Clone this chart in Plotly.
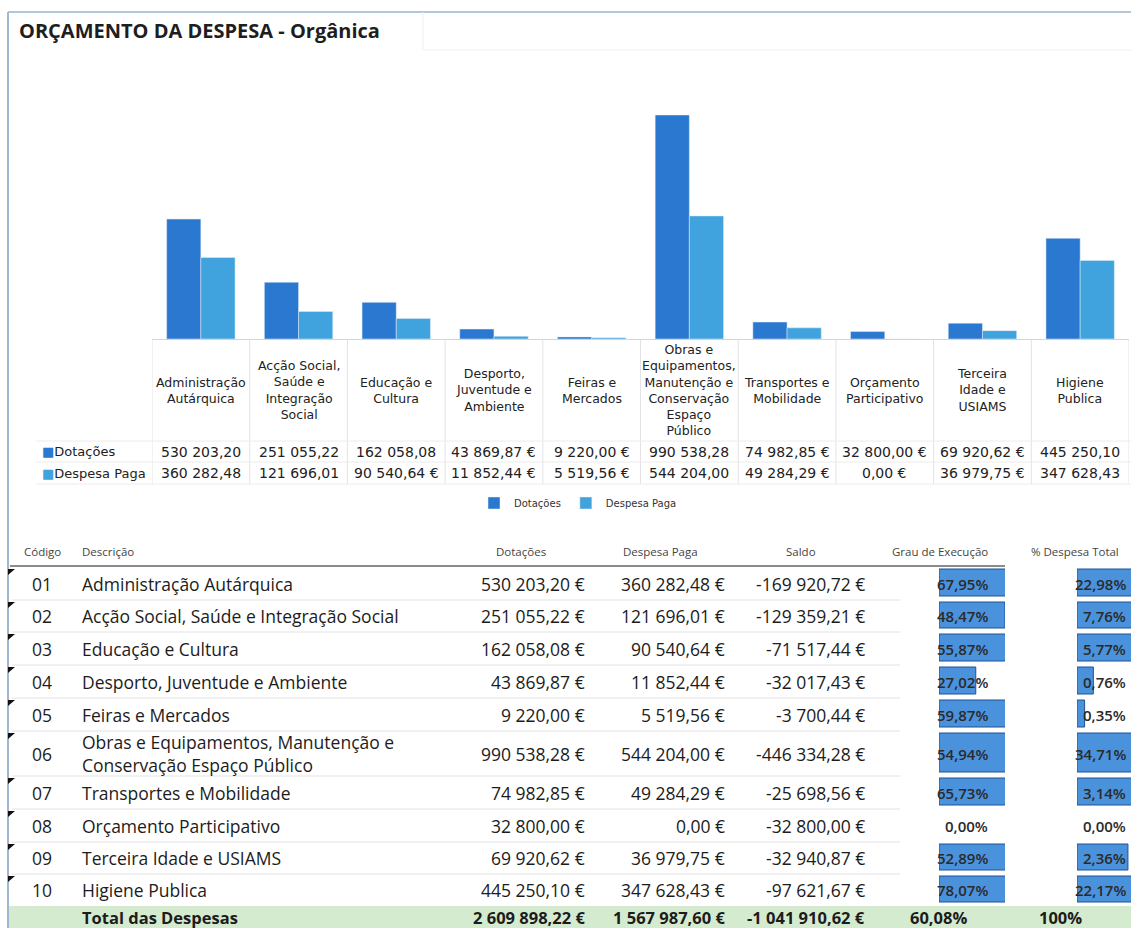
import plotly.graph_objects as go

# ---------------- data ----------------
codes = ["01", "02", "03", "04", "05", "06", "07", "08", "09", "10"]
descricao = [
    "Administração Autárquica",
    "Acção Social, Saúde e Integração Social",
    "Educação e Cultura",
    "Desporto, Juventude e Ambiente",
    "Feiras e Mercados",
    "Obras e Equipamentos, Manutenção e<br>Conservação Espaço Público",
    "Transportes e Mobilidade",
    "Orçamento Participativo",
    "Terceira Idade e USIAMS",
    "Higiene Publica",
]
chart_labels = [
    "Administração<br>Autárquica",
    "Acção Social,<br>Saúde e<br>Integração<br>Social",
    "Educação e<br>Cultura",
    "Desporto,<br>Juventude e<br>Ambiente",
    "Feiras e<br>Mercados",
    "Obras e<br>Equipamentos,<br>Manutenção e<br>Conservação<br>Espaço<br>Público",
    "Transportes e<br>Mobilidade",
    "Orçamento<br>Participativo",
    "Terceira<br>Idade e<br>USIAMS",
    "Higiene<br>Publica",
]
dotacoes = [530203.20, 251055.22, 162058.08, 43869.87, 9220.00,
            990538.28, 74982.85, 32800.00, 69920.62, 445250.10]
despesa_paga = [360282.48, 121696.01, 90540.64, 11852.44, 5519.56,
                544204.00, 49284.29, 0.00, 36979.75, 347628.43]
series_names = ["Dotações", "Despesa Paga"]
headers = ["Código", "Descrição", "Dotações", "Despesa Paga", "Saldo",
           "Grau de Execução", "% Despesa Total"]
title_text = "ORÇAMENTO DA DESPESA - Orgânica"
total_label = "Total das Despesas"

# derived values
saldo = [p - d for d, p in zip(dotacoes, despesa_paga)]
grau = [p / d for d, p in zip(dotacoes, despesa_paga)]
tot_dot = sum(dotacoes)
tot_desp = sum(despesa_paga)
tot_saldo = tot_desp - tot_dot
pct_total = [p / tot_desp for p in despesa_paga]


def num(v):
    s = f"{abs(v):,.2f}".replace(",", " ").replace(".", ",")
    return ("-" if v < 0 else "") + s


def eur(v):
    return num(v) + " €"


def pct(v):
    return f"{v * 100:.2f}".replace(".", ",") + "%"


def cell(v):  # Excel-style truncated display in the chart data table
    return num(v) if v >= 100000 else eur(v)


# ---------------- layout helpers ----------------
W, H = 1131, 928
C_DOT = "#2a78d0"
C_DESP = "#41a3dd"
CHART_FONT = "DejaVu Sans"
TAB_FONT = "Open Sans"


def fx(x):
    return x / W


def fy(y):
    return 1 - y / H


fig = go.Figure()

# main clustered bars
fig.add_trace(go.Bar(x=list(range(len(codes))), y=dotacoes, name=series_names[0],
                     marker_color=C_DOT, hoverinfo="skip"))
fig.add_trace(go.Bar(x=list(range(len(codes))), y=despesa_paga, name=series_names[1],
                     marker_color=C_DESP, hoverinfo="skip"))

# table geometry
row_heights = [33, 32, 33, 33, 33, 45, 33, 33, 32, 32]
table_top = 567
row_tops = []
yy = table_top
for h in row_heights:
    row_tops.append(yy)
    yy += h
row_centers = [t + h / 2 for t, h in zip(row_tops, row_heights)]
total_top = yy
total_center = total_top + 11.5

# data bars (Excel conditional-format style)
bar_w = [h - 6 for h in row_heights]
bar_y = [c - 1 for c in row_centers]
DB_FILL = "#4b92dc"
DB_LINE = "#1d5296"
for vals, xa, ya in ((grau, "x2", "y2"), (pct_total, "x3", "y3")):
    fig.add_trace(go.Bar(x=vals, y=bar_y, width=bar_w, orientation="h",
                         xaxis=xa, yaxis=ya, showlegend=False, hoverinfo="skip",
                         marker=dict(color=DB_FILL,
                                     line=dict(color=DB_LINE,
                                               width=[1 if v > 0 else 0 for v in vals]))))

ann = []
shapes = []

# title
ann.append(dict(x=fx(17), y=fy(30), xref="paper", yref="paper", xanchor="left",
                yanchor="middle", showarrow=False, text=f"<b>{title_text}</b>",
                font=dict(family=TAB_FONT, size=20, color="#1e1e1e")))

# chart frame
shapes.append(dict(type="line", xref="paper", yref="paper", x0=fx(8), x1=1,
                   y0=fy(12), y1=fy(12), line=dict(color="#b3c7da", width=2)))
shapes.append(dict(type="line", xref="paper", yref="paper", x0=fx(8), x1=fx(8),
                   y0=fy(12), y1=0, line=dict(color="#9fb9d2", width=2)))
# faint text-box outline at top right
shapes.append(dict(type="path", xref="paper", yref="paper",
                   path=f"M {fx(423)} {fy(12)} L {fx(423)} {fy(50)} L 1 {fy(50)}",
                   line=dict(color="#eef1f4", width=1)))

# chart data table grid
grid_c = "#e3e3e3"
for i in range(len(codes) + 1):
    shapes.append(dict(type="line", xref="x", yref="paper", x0=i - 0.5, x1=i - 0.5,
                       y0=fy(340), y1=fy(484), line=dict(color=grid_c, width=1)))
for yl in (441, 462, 484):
    shapes.append(dict(type="line", xref="paper", yref="paper", x0=fx(36), x1=1,
                       y0=fy(yl), y1=fy(yl), line=dict(color="#ececec", width=1)))

for i, lab in enumerate(chart_labels):
    ann.append(dict(x=i, y=fy(390), xref="x", yref="paper", showarrow=False,
                    xanchor="center", yanchor="middle", text=lab,
                    font=dict(family=CHART_FONT, size=12.5, color="#222")))
    ann.append(dict(x=i, y=fy(452), xref="x", yref="paper", showarrow=False,
                    xanchor="center", yanchor="middle", text=cell(dotacoes[i]),
                    font=dict(family=CHART_FONT, size=14, color="#222")))
    ann.append(dict(x=i, y=fy(473), xref="x", yref="paper", showarrow=False,
                    xanchor="center", yanchor="middle", text=cell(despesa_paga[i]),
                    font=dict(family=CHART_FONT, size=14, color="#222")))

for yv, nm, col in ((452, series_names[0], C_DOT), (473, series_names[1], C_DESP)):
    ann.append(dict(x=fx(40), y=fy(yv), xref="paper", yref="paper", showarrow=False,
                    xanchor="left", yanchor="middle",
                    text=f"<span style='color:{col}'>■</span>{nm}",
                    font=dict(family=CHART_FONT, size=13, color="#222")))

# ---------------- lower table ----------------
hdr_x = [(22, "left"), (80, "left"), (521, "center"), (660, "center"),
         (801, "center"), (940, "center"), (1075, "center")]
for (xh, al), t in zip(hdr_x, headers):
    ann.append(dict(x=fx(xh), y=fy(551), xref="paper", yref="paper", showarrow=False,
                    xanchor=al, yanchor="middle", text=t,
                    font=dict(family=TAB_FONT, size=11.5, color="#444")))
shapes.append(dict(type="line", xref="paper", yref="paper", x0=fx(10), x1=fx(1005),
                   y0=fy(566), y1=fy(566), line=dict(color="#666", width=1.5)))

for k in range(1, len(row_tops)):
    shapes.append(dict(type="line", xref="paper", yref="paper", x0=fx(12), x1=fx(900),
                       y0=fy(row_tops[k]), y1=fy(row_tops[k]),
                       line=dict(color="#e2e2e2", width=1)))
for t in row_tops:
    shapes.append(dict(type="path", xref="paper", yref="paper",
                       path=f"M {fx(8)} {fy(t + 2)} L {fx(15)} {fy(t + 2)} L {fx(8)} {fy(t + 8)} Z",
                       fillcolor="#111", line=dict(width=0)))

tf = dict(family=TAB_FONT, size=17.5, color="#1c1c1c")
pf = dict(family=TAB_FONT, size=15, color="#2a2a2a", weight=600)
for i in range(len(codes)):
    yc = fy(row_centers[i])
    ann.append(dict(x=fx(42), y=yc, xref="paper", yref="paper", showarrow=False,
                    xanchor="center", yanchor="middle", text=codes[i], font=tf))
    ann.append(dict(x=fx(80), y=yc, xref="paper", yref="paper", showarrow=False,
                    xanchor="left", yanchor="middle", align="left",
                    text=descricao[i], font=tf))
    for xr, v in ((587, dotacoes[i]), (727, despesa_paga[i]), (867, saldo[i])):
        ann.append(dict(x=fx(xr), y=yc, xref="paper", yref="paper", showarrow=False,
                        xanchor="right", yanchor="middle", text=eur(v), font=tf))
    ann.append(dict(x=fx(990), y=yc, xref="paper", yref="paper", showarrow=False,
                    xanchor="right", yanchor="middle", text=pct(grau[i]), font=pf))
    ann.append(dict(x=fx(1128), y=yc, xref="paper", yref="paper", showarrow=False,
                    xanchor="right", yanchor="middle", text=pct(pct_total[i]), font=pf))

# total row
shapes.append(dict(type="rect", xref="paper", yref="paper", x0=fx(9), x1=1,
                   y0=0, y1=fy(total_top), fillcolor="#d5ebcf", line=dict(width=0),
                   layer="below"))
tb = dict(family=TAB_FONT, size=16.5, color="#1c1c1c", weight="bold")
yt = fy(total_center)
ann.append(dict(x=fx(80), y=yt, xref="paper", yref="paper", showarrow=False,
                xanchor="left", yanchor="middle", text=total_label, font=tb))
for xr, v in ((587, tot_dot), (727, tot_desp), (867, tot_saldo)):
    ann.append(dict(x=fx(xr), y=yt, xref="paper", yref="paper", showarrow=False,
                    xanchor="right", yanchor="middle", text=eur(v), font=tb))
ann.append(dict(x=fx(938), y=yt, xref="paper", yref="paper", showarrow=False,
                xanchor="center", yanchor="middle", text=pct(tot_desp / tot_dot), font=tb))
ann.append(dict(x=fx(1060), y=yt, xref="paper", yref="paper", showarrow=False,
                xanchor="center", yanchor="middle",
                text=f"{round(sum(pct_total) * 100)}%", font=tb))

# ---------------- axes ----------------
ymax = max(max(dotacoes), max(despesa_paga)) * (339 - 100) / (339 - 115)
hidden = dict(visible=False, showgrid=False, zeroline=False, fixedrange=True)

fig.update_layout(
    width=W, height=H,
    margin=dict(l=0, r=0, t=0, b=0),
    paper_bgcolor="white", plot_bgcolor="rgba(0,0,0,0)",
    barmode="group", bargap=0.3, bargroupgap=0,
    showlegend=True,
    legend=dict(orientation="h", x=fx(578), xanchor="center", y=fy(503),
                yanchor="middle", font=dict(family=CHART_FONT, size=10, color="#333"),
                itemwidth=30, bgcolor="rgba(0,0,0,0)"),
    xaxis=dict(domain=[fx(152), fx(1129)], range=[-0.5, len(codes) - 0.5],
               showticklabels=False, showgrid=False, zeroline=False,
               showline=True, linecolor="#d4d4d4", linewidth=1, ticks="",
               anchor="y"),
    yaxis=dict(domain=[fy(339), fy(100)], range=[0, ymax], **hidden, anchor="x"),
    xaxis2=dict(domain=[fx(939), fx(1005)], range=[0, 0.485], anchor="y2", **hidden),
    yaxis2=dict(domain=[0, fy(table_top)], range=[H, table_top], anchor="x2", **hidden),
    xaxis3=dict(domain=[fx(1077), 1], range=[0, 0.025], anchor="y3", **hidden),
    yaxis3=dict(domain=[0, fy(table_top)], range=[H, table_top], anchor="x3", **hidden),
    annotations=ann,
    shapes=shapes,
)

fig.write_html("out.html", config={"displayModeBar": False},
               post_script="document.body.style.margin='0';document.body.style.overflow='hidden';")
